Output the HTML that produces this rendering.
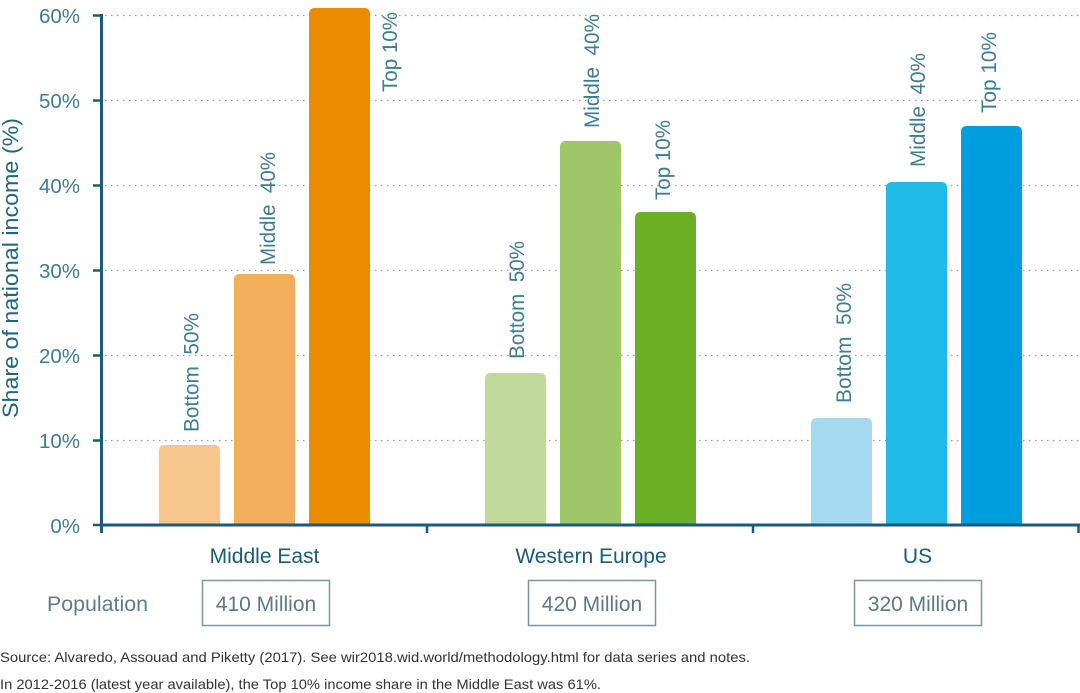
<!DOCTYPE html>
<html>
<head>
<meta charset="utf-8">
<style>
  html,body{margin:0;padding:0;background:#fff;}
  svg{display:block;}
  text{font-family:"Liberation Sans", sans-serif;}
</style>
</head>
<body>
<svg width="1080" height="693" viewBox="0 0 1080 693" xmlns="http://www.w3.org/2000/svg">
  <rect width="1080" height="693" fill="#fff"/>

  <!-- gridlines -->
  <g stroke="#9a9a9a" stroke-width="1.3" stroke-dasharray="1.5 4.5">
    <line x1="105" y1="15.5" x2="1080" y2="15.5"/>
    <line x1="105" y1="100.5" x2="1080" y2="100.5"/>
    <line x1="105" y1="185.5" x2="1080" y2="185.5"/>
    <line x1="105" y1="270.5" x2="1080" y2="270.5"/>
    <line x1="105" y1="355.5" x2="1080" y2="355.5"/>
    <line x1="105" y1="440.5" x2="1080" y2="440.5"/>
  </g>

  <!-- bars -->
  <g>
    <path d="M159,525 V451 Q159,445 165,445 H214 Q220,445 220,451 V525 Z" fill="#F7C68C"/>
    <path d="M234,525 V280 Q234,274 240,274 H289 Q295,274 295,280 V525 Z" fill="#F3AD5B"/>
    <path d="M309,525 V14 Q309,8 315,8 H364 Q370,8 370,14 V525 Z" fill="#EC8A00"/>

    <path d="M485,525 V379 Q485,373 491,373 H540 Q546,373 546,379 V525 Z" fill="#C1D99B"/>
    <path d="M560,525 V147 Q560,141 566,141 H615 Q621,141 621,147 V525 Z" fill="#A0C66A"/>
    <path d="M635,525 V218 Q635,212 641,212 H690 Q696,212 696,218 V525 Z" fill="#6AAF24"/>

    <path d="M811,525 V424 Q811,418 817,418 H866 Q872,418 872,424 V525 Z" fill="#A6DAF1"/>
    <path d="M886,525 V188 Q886,182 892,182 H941 Q947,182 947,188 V525 Z" fill="#21BAE8"/>
    <path d="M961,525 V132 Q961,126 967,126 H1016 Q1022,126 1022,132 V525 Z" fill="#009EDE"/>
  </g>

  <!-- axes -->
  <g stroke="#1b5a78" fill="none">
    <line x1="101.5" y1="14" x2="101.5" y2="533" stroke-width="3"/>
    <line x1="100" y1="525" x2="1080" y2="525" stroke-width="3"/>
    <g stroke-width="2.5">
      <line x1="93" y1="15.5" x2="101" y2="15.5"/>
      <line x1="93" y1="100.5" x2="101" y2="100.5"/>
      <line x1="93" y1="185.5" x2="101" y2="185.5"/>
      <line x1="93" y1="270.5" x2="101" y2="270.5"/>
      <line x1="93" y1="355.5" x2="101" y2="355.5"/>
      <line x1="93" y1="440.5" x2="101" y2="440.5"/>
      <line x1="93" y1="525" x2="101" y2="525"/>
      <line x1="427" y1="525" x2="427" y2="533"/>
      <line x1="753" y1="525" x2="753" y2="533"/>
      <line x1="1078.5" y1="525" x2="1078.5" y2="533"/>
    </g>
  </g>

  <!-- y tick labels -->
  <g font-size="20.5" fill="#3f7c93" text-anchor="end">
    <text x="80" y="23">60%</text>
    <text x="80" y="108">50%</text>
    <text x="80" y="193">40%</text>
    <text x="80" y="278">30%</text>
    <text x="80" y="363">20%</text>
    <text x="80" y="448">10%</text>
    <text x="80" y="533">0%</text>
  </g>

  <!-- y axis title -->
  <text x="18" y="418" transform="rotate(-90 18 418)" font-size="22" fill="#1f6582" textLength="300" lengthAdjust="spacingAndGlyphs">Share of national income (%)</text>

  <!-- bar labels -->
  <g font-size="21" fill="#3f7c93">
    <text x="198.5" y="432" transform="rotate(-90 198.5 432)" textLength="119" lengthAdjust="spacingAndGlyphs" xml:space="preserve">Bottom  50%</text>
    <text x="275" y="265" transform="rotate(-90 275 265)" textLength="113" lengthAdjust="spacingAndGlyphs" xml:space="preserve">Middle  40%</text>
    <text x="397" y="92" transform="rotate(-90 397 92)" textLength="80" lengthAdjust="spacingAndGlyphs">Top 10%</text>

    <text x="524" y="359" transform="rotate(-90 524 359)" textLength="118" lengthAdjust="spacingAndGlyphs" xml:space="preserve">Bottom  50%</text>
    <text x="599" y="128" transform="rotate(-90 599 128)" textLength="114" lengthAdjust="spacingAndGlyphs" xml:space="preserve">Middle  40%</text>
    <text x="670" y="200" transform="rotate(-90 670 200)" textLength="80" lengthAdjust="spacingAndGlyphs">Top 10%</text>

    <text x="851" y="403" transform="rotate(-90 851 403)" textLength="120" lengthAdjust="spacingAndGlyphs" xml:space="preserve">Bottom  50%</text>
    <text x="925" y="167" transform="rotate(-90 925 167)" textLength="114" lengthAdjust="spacingAndGlyphs" xml:space="preserve">Middle  40%</text>
    <text x="996" y="113" transform="rotate(-90 996 113)" textLength="81" lengthAdjust="spacingAndGlyphs">Top 10%</text>
  </g>

  <!-- category labels -->
  <g font-size="21" fill="#1b5a78" text-anchor="middle">
    <text x="264.5" y="563">Middle East</text>
    <text x="591" y="563">Western Europe</text>
    <text x="917.5" y="563">US</text>
  </g>

  <!-- population row -->
  <text x="47" y="611" font-size="21" fill="#5e7e86" textLength="101" lengthAdjust="spacingAndGlyphs">Population</text>
  <g fill="none" stroke="#7f969c" stroke-width="1.5">
    <rect x="202.5" y="580.5" width="127" height="45"/>
    <rect x="528.5" y="580.5" width="127" height="45"/>
    <rect x="854.5" y="580.5" width="127" height="45"/>
  </g>
  <g font-size="21" fill="#5e7a80" text-anchor="middle">
    <text x="266" y="611">410 Million</text>
    <text x="592" y="611">420 Million</text>
    <text x="918" y="611">320 Million</text>
  </g>

  <!-- footnotes -->
  <g font-size="14" fill="#333">
    <text x="0" y="662" textLength="750" lengthAdjust="spacingAndGlyphs">Source: Alvaredo, Assouad and Piketty (2017). See wir2018.wid.world/methodology.html for data series and notes.</text>
    <text x="0" y="689" textLength="601" lengthAdjust="spacingAndGlyphs">In 2012-2016 (latest year available), the Top 10% income share in the Middle East was 61%.</text>
  </g>
</svg>
</body>
</html>
